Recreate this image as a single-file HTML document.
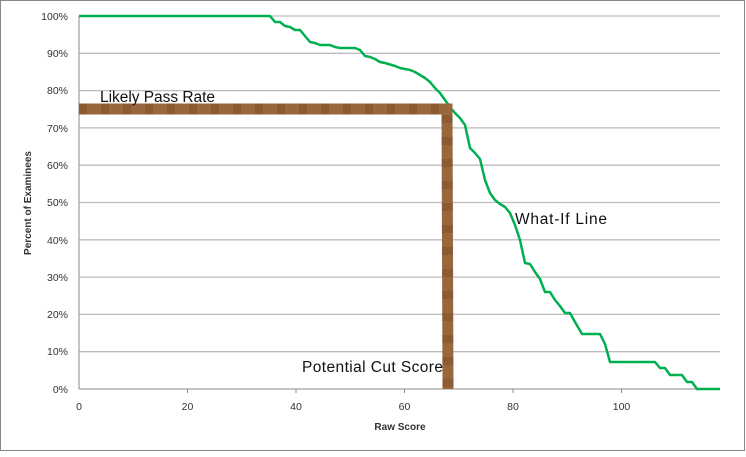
<!DOCTYPE html>
<html><head><style>body{margin:0;background:#fff}</style></head><body>
<svg width="746" height="452" viewBox="0 0 746 452" xmlns="http://www.w3.org/2000/svg" font-family="Liberation Sans, sans-serif">
<rect x="0.5" y="0.5" width="744" height="450" fill="#fff" stroke="#888" stroke-width="1"/>
<g stroke="#bdbdbd" stroke-width="1.3">
<line x1="79" y1="16" x2="720" y2="16"/><line x1="79" y1="53.3" x2="720" y2="53.3"/><line x1="79" y1="90.6" x2="720" y2="90.6"/><line x1="79" y1="127.9" x2="720" y2="127.9"/><line x1="79" y1="165.2" x2="720" y2="165.2"/><line x1="79" y1="202.5" x2="720" y2="202.5"/><line x1="79" y1="239.8" x2="720" y2="239.8"/><line x1="79" y1="277.1" x2="720" y2="277.1"/><line x1="79" y1="314.4" x2="720" y2="314.4"/><line x1="79" y1="351.7" x2="720" y2="351.7"/>
</g>
<g stroke="#888" stroke-width="1">
<line x1="79" y1="16" x2="79" y2="389"/><line x1="79" y1="389" x2="720" y2="389"/>
<line x1="187.5" y1="389" x2="187.5" y2="393"/><line x1="296" y1="389" x2="296" y2="393"/><line x1="404.5" y1="389" x2="404.5" y2="393"/><line x1="513" y1="389" x2="513" y2="393"/><line x1="621.5" y1="389" x2="621.5" y2="393"/>
</g>
<g font-size="10.5" fill="#333" text-anchor="end">
<text x="68" y="20">100%</text><text x="68" y="57">90%</text><text x="68" y="94">80%</text><text x="68" y="132">70%</text><text x="68" y="169">60%</text><text x="68" y="206">50%</text><text x="68" y="244">40%</text><text x="68" y="281">30%</text><text x="68" y="318">20%</text><text x="68" y="355">10%</text><text x="68" y="393">0%</text>
</g>
<g font-size="10.5" fill="#333" text-anchor="middle">
<text x="79" y="410">0</text><text x="187.5" y="410">20</text><text x="296" y="410">40</text><text x="404.5" y="410">60</text><text x="513" y="410">80</text><text x="621.5" y="410">100</text>
</g>
<text x="400" y="430" font-size="10" font-weight="bold" fill="#333" text-anchor="middle">Raw Score</text>
<text transform="translate(31,203) rotate(-90)" font-size="10" font-weight="bold" fill="#333" text-anchor="middle">Percent of Examinees</text>
<polyline fill="none" stroke="#00b050" stroke-width="2.5" stroke-linejoin="round" points="79,16 270,16 275,22 280,22 285,26 290,27 295,30 300,30 305,36 310,42 315,43 320,45 330,45 335,47 340,48 355,48 360,50 365,56 370,57 375,59 380,62 385,63 395,66 400,68 405,69 410,70 415,72 420,75 425,78 430,82 435,88 440,93 445,100 450,107 455,113 460,118 465,125 470,148 475,153 480,159 485,180 490,193 495,200 500,204 505,207 510,213 515,225 520,240 525,263 530,264 535,272 540,279 545,292 550,292 555,300 560,306 565,313 570,313 575,322 582,334 600,334 605,344 610,362 655,362 660,368 665,368 670,375 682,375 687,382 692,382 697,389 720,389"/>
<polyline fill="none" stroke="#98683c" stroke-width="11" points="79,109 447,109 448,389"/>
<polyline fill="none" stroke="#6e4322" stroke-width="11" stroke-dasharray="8 14" opacity="0.3" points="79,109 447,109 448,389"/>
<g font-size="15.5" fill="#111">
<text x="100" y="102" textLength="115">Likely Pass Rate</text>
<text x="515" y="224" textLength="92">What-If Line</text>
<text x="302" y="372" textLength="141">Potential Cut Score</text>
</g>
</svg>
</body></html>
